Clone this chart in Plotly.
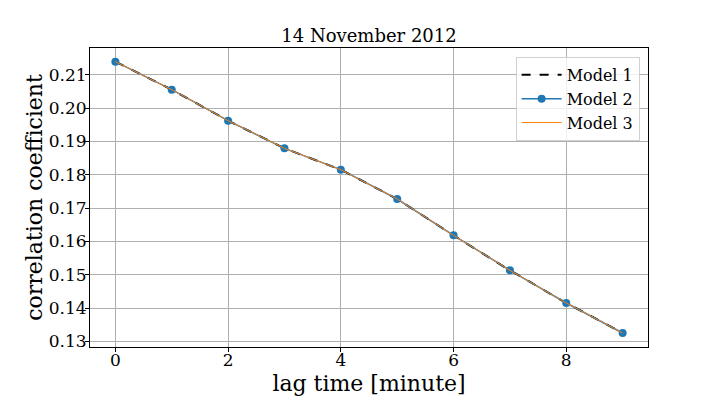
import plotly.graph_objects as go

lag = [0, 1, 2, 3, 4, 5, 6, 7, 8, 9]
model1 = [0.2139, 0.2055, 0.1962, 0.1879, 0.1815, 0.1727, 0.1618, 0.1513, 0.1415, 0.1325]
model2 = [0.2139, 0.2055, 0.1962, 0.1879, 0.1815, 0.1727, 0.1618, 0.1513, 0.1415, 0.1325]
model3 = [0.2139, 0.2055, 0.1962, 0.1879, 0.1815, 0.1727, 0.1618, 0.1513, 0.1415, 0.1325]
yticks = [0.13, 0.14, 0.15, 0.16, 0.17, 0.18, 0.19, 0.20, 0.21]
xticks = [0, 2, 4, 6, 8]

FONT = "DejaVu Serif"

fig = go.Figure()
fig.add_trace(go.Scatter(x=lag, y=model1, mode="lines", name="Model 1",
                         line=dict(color="black", width=2, dash="dash")))
fig.add_trace(go.Scatter(x=lag, y=model2, mode="lines+markers", name="Model 2",
                         line=dict(color="#1f77b4", width=1.5),
                         marker=dict(color="#1f77b4", size=8)))
fig.add_trace(go.Scatter(x=lag, y=model3, mode="lines", name="Model 3",
                         line=dict(color="#ff7f0e", width=1)))

axis_common = dict(showline=True, linecolor="black", linewidth=1, mirror=True,
                   ticks="outside", ticklen=4, tickcolor="black", automargin=False,
                   showgrid=True, gridcolor="#b0b0b0", gridwidth=1,
                   zeroline=False, tickfont=dict(family=FONT, size=17, color="black"))

fig.update_layout(
    width=720, height=396,
    margin=dict(l=82, r=80, t=40, b=57),
    paper_bgcolor="white", plot_bgcolor="white",
    title=dict(text="14 November 2012", x=0.5, xanchor="center", xref="paper",
               y=1 - 28 / 396, yanchor="middle",
               font=dict(family=FONT, size=18, color="black")),
    xaxis=dict(range=[-0.45, 9.45], tickvals=xticks, ticklabelstandoff=-6,
               title=dict(text="lag time [minute]", font=dict(family=FONT, size=22, color="black"), standoff=6),
               **axis_common),
    yaxis=dict(range=[0.1283, 0.2180], tickvals=yticks, tickformat=".2f", ticklabelstandoff=-5,
               title=dict(text="correlation coefficient", font=dict(family=FONT, size=22, color="black"), standoff=0),
               **axis_common),
    legend=dict(x=0.985, y=0.97, xanchor="right", yanchor="top",
                bgcolor="rgba(255,255,255,0.8)", bordercolor="#d0d0d0", borderwidth=1,
                font=dict(family=FONT, size=16, color="black"),
                tracegroupgap=2, itemwidth=40),
    showlegend=True,
)

fig.write_html("out.html")
